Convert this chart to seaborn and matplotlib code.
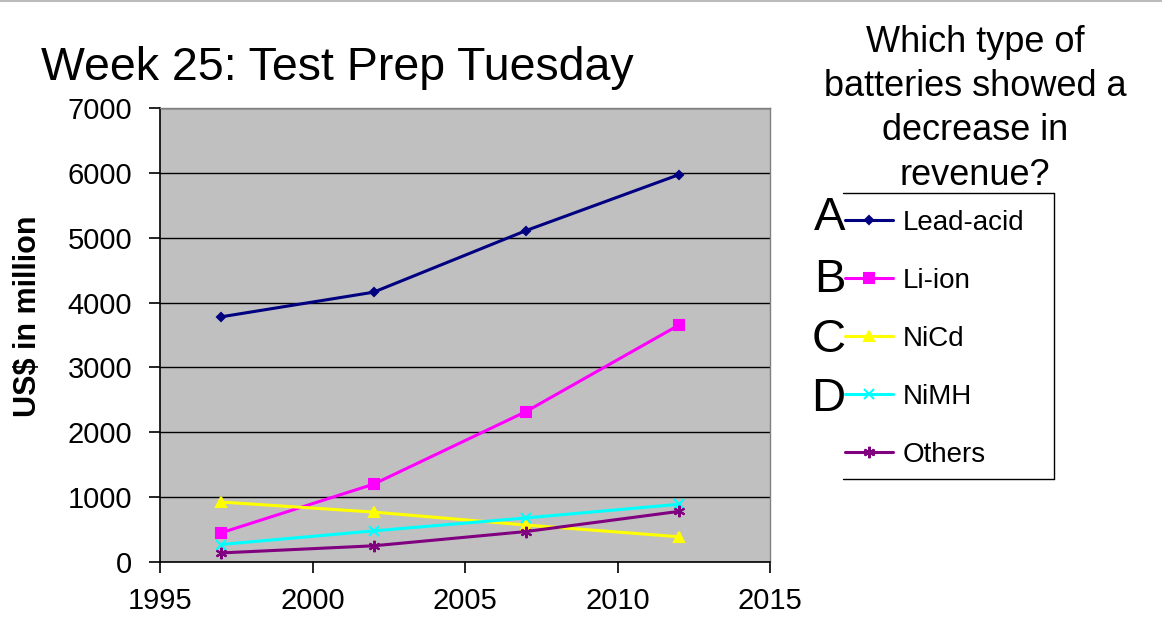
import matplotlib
matplotlib.use("Agg")
import matplotlib.pyplot as plt
import pandas as pd
import seaborn as sns
from matplotlib.lines import Line2D

YEARS = [1997, 2002, 2007, 2012]
LEAD_ACID = [3780, 4160, 5110, 5970]
LI_ION = [450, 1200, 2320, 3650]
NICD = [925, 770, 570, 390]
NIMH = [270, 480, 680, 890]
OTHERS = [140, 250, 470, 780]

SERIES_NAMES = ["Lead-acid", "Li-ion", "NiCd", "NiMH", "Others"]
SERIES_VALUES = [LEAD_ACID, LI_ION, NICD, NIMH, OTHERS]
SERIES_COLORS = ["#000080", "#FF00FF", "#FFFF00", "#00FFFF", "#800080"]
SERIES_MARKERS = ["D", "s", "^", "x", (6, 2, 0)]
MARKER_SIZES = [6, 9, 9, 10, 11]
CHOICE_LETTERS = ["A", "B", "C", "D"]

X_TICKS = [1995, 2000, 2005, 2010, 2015]
Y_TICKS = [0, 1000, 2000, 3000, 4000, 5000, 6000, 7000]

W, H = 1162, 626

sns.set_theme(style="white")
plt.rcParams["font.family"] = ["Liberation Sans", "DejaVu Sans"]
plt.rcParams["text.color"] = "black"
plt.rcParams["axes.labelcolor"] = "black"

fig = plt.figure(figsize=(W / 100, H / 100), dpi=100)
ax = fig.add_axes([0.1377, 0.1022, 0.525, 0.7253])
ax.set_facecolor("#C0C0C0")

for name, values, color, marker, size in zip(
    SERIES_NAMES, SERIES_VALUES, SERIES_COLORS, SERIES_MARKERS, MARKER_SIZES
):
    df = pd.DataFrame({"year": YEARS, "value": values})
    sns.lineplot(
        data=df, x="year", y="value", ax=ax, color=color, marker=marker,
        markersize=size, markeredgecolor=color, markeredgewidth=1.5,
        linewidth=2.2, label=name, legend=False,
    )

ax.set_xlim(1995, 2015)
ax.set_ylim(0, 7000)
ax.set_xticks(X_TICKS)
ax.set_yticks(Y_TICKS)
ax.tick_params(axis="both", labelsize=21, colors="black", direction="out",
               length=8, width=1.2, left=True, bottom=True)
ax.tick_params(axis="y", pad=12)
ax.tick_params(axis="x", pad=10)
ax.yaxis.grid(True, color="black", linewidth=1.0)
ax.set_axisbelow(True)
ax.set_xlabel("")
ax.set_ylabel("US$ in million", fontsize=22, fontweight="bold")
ax.yaxis.set_label_coords(-0.192, 0.542)
for side in ["left", "bottom"]:
    ax.spines[side].set_color("black")
    ax.spines[side].set_linewidth(1.2)
for side in ["top", "right"]:
    ax.spines[side].set_color("#808080")
    ax.spines[side].set_linewidth(1.0)

fig.add_artist(Line2D([0, 1], [0.999, 0.999], transform=fig.transFigure,
                      color="#BBBBBB", linewidth=1.5))
fig.text(0.035, 0.872, "Week 25: Test Prep Tuesday", fontsize=33.5, ha="left",
         va="baseline")
fig.text(0.839, 0.96, "Which type of\nbatteries showed a\ndecrease in\nrevenue?",
         fontsize=26, ha="center", va="top", linespacing=1.34)

handles, labels = ax.get_legend_handles_labels()
for h in handles:
    h.set_markersize(h.get_markersize() * 0.75)
leg = fig.legend(
    handles, labels, loc="upper left",
    bbox_to_anchor=(842 / W, 1 - 207 / H),
    fontsize=20, frameon=False, handlelength=1.75, handletextpad=0.35,
    labelspacing=1.15, borderpad=0.1, borderaxespad=0,
)

# legend box without its left edge, as on the slide
bx0, bx1, by0, by1 = 843 / W, 1054 / W, 1 - 479 / H, 1 - 193 / H
for xs, ys in [([bx0, bx1], [by1, by1]), ([bx1, bx1], [by0, by1]),
               ([bx0, bx1], [by0, by0])]:
    fig.add_artist(Line2D(xs, ys, transform=fig.transFigure, color="black",
                          linewidth=1.0))

letter_y = [0.652, 0.553, 0.457, 0.363]
for letter, y in zip(CHOICE_LETTERS, letter_y):
    fig.text(0.7275, y, letter, fontsize=34, ha="right", va="center", zorder=10)

fig.savefig("out.png", dpi=100)
